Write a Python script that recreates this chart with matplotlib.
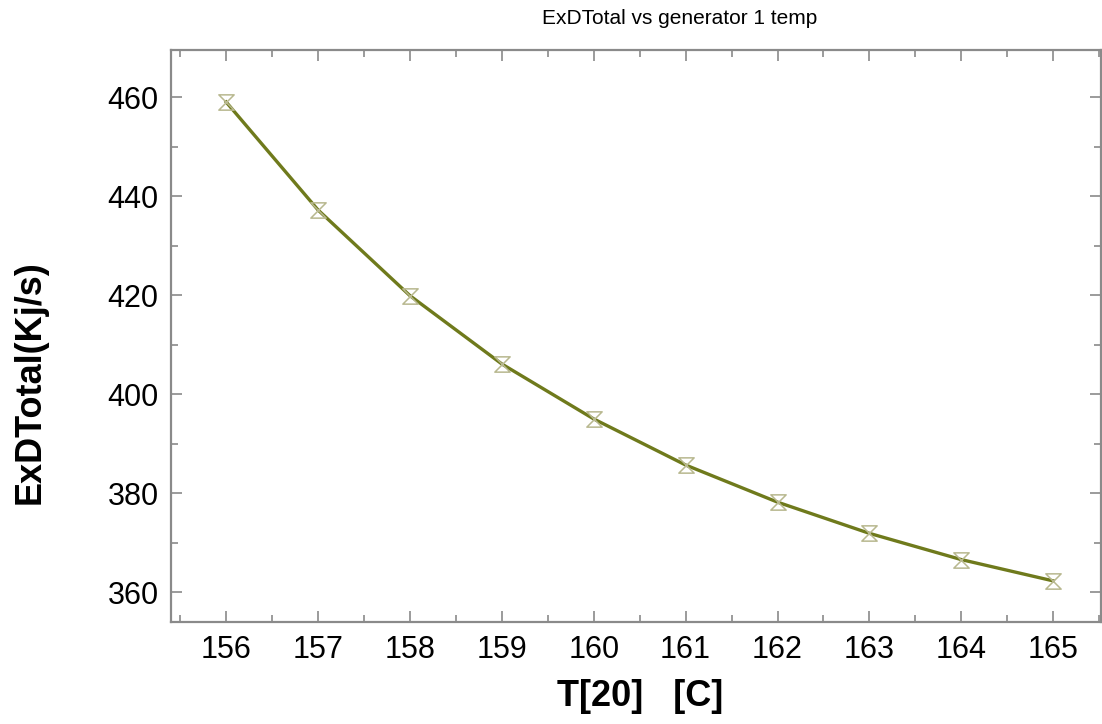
"""
ExDTotal vs generator 1 temperature, redrawn with matplotlib.
"""

import numpy as np
import matplotlib.pyplot as plt
from matplotlib.path import Path
from matplotlib.ticker import MultipleLocator

plt.rcParams['font.family'] = ['Liberation Sans', 'DejaVu Sans']

# Data
T_gen = [156, 157, 158, 159, 160, 161, 162, 163, 164, 165]
ExD_total = [459.0, 437.2, 419.9, 406.1, 395.0, 385.7, 378.2, 371.9, 366.6, 362.3]

LINE_COLOUR = '#6f7a1c'
MARKER_COLOUR = '#b8b88f'
AXIS_COLOUR = '#8a8a8a'

# hourglass marker: top edge, diagonal, bottom edge, diagonal back
hourglass = Path([(-1, 1), (1, 1), (-1, -1), (1, -1), (-1, 1)],
                 [Path.MOVETO, Path.LINETO, Path.LINETO, Path.LINETO, Path.CLOSEPOLY])


def main():
    fig = plt.figure(figsize=(11.02, 7.24), dpi=100)
    ax = fig.add_axes([171 / 1102, 1 - 622 / 724, 930 / 1102, 572 / 724])

    ax.plot(T_gen, ExD_total, color=LINE_COLOUR, lw=2.4, zorder=2)
    ax.plot(T_gen, ExD_total, ls='none', marker=hourglass, ms=11,
            mfc='none', mec=MARKER_COLOUR, mew=1.1, zorder=3)

    ax.set_xlim(155.40, 165.52)
    ax.set_ylim(354.0, 469.5)
    ax.xaxis.set_major_locator(MultipleLocator(1))
    ax.xaxis.set_minor_locator(MultipleLocator(0.5))
    ax.yaxis.set_major_locator(MultipleLocator(20))
    ax.yaxis.set_minor_locator(MultipleLocator(10))

    for side in ax.spines.values():
        side.set_color(AXIS_COLOUR)
        side.set_linewidth(1.6)
    ax.tick_params(which='both', direction='in', top=True, right=True,
                   color=AXIS_COLOUR, width=1.2, labelsize=22, labelcolor='black')
    ax.tick_params(which='major', length=8, pad=9)
    ax.tick_params(which='minor', length=5)

    fig.text(680 / 1102, 1 - 18 / 724, 'ExDTotal vs generator 1 temp',
             ha='center', va='center', fontsize=15)
    fig.text(640 / 1102, 1 - 697 / 724, 'T[20]   [C]', ha='center', va='center',
             fontsize=26, fontweight='bold')
    fig.text(30 / 1102, 1 - 382 / 724, 'ExDTotal(Kj/s)', ha='center', va='center',
             rotation=90, fontsize=26, fontweight='bold')

    fig.savefig('out.png', dpi=100)


main()
